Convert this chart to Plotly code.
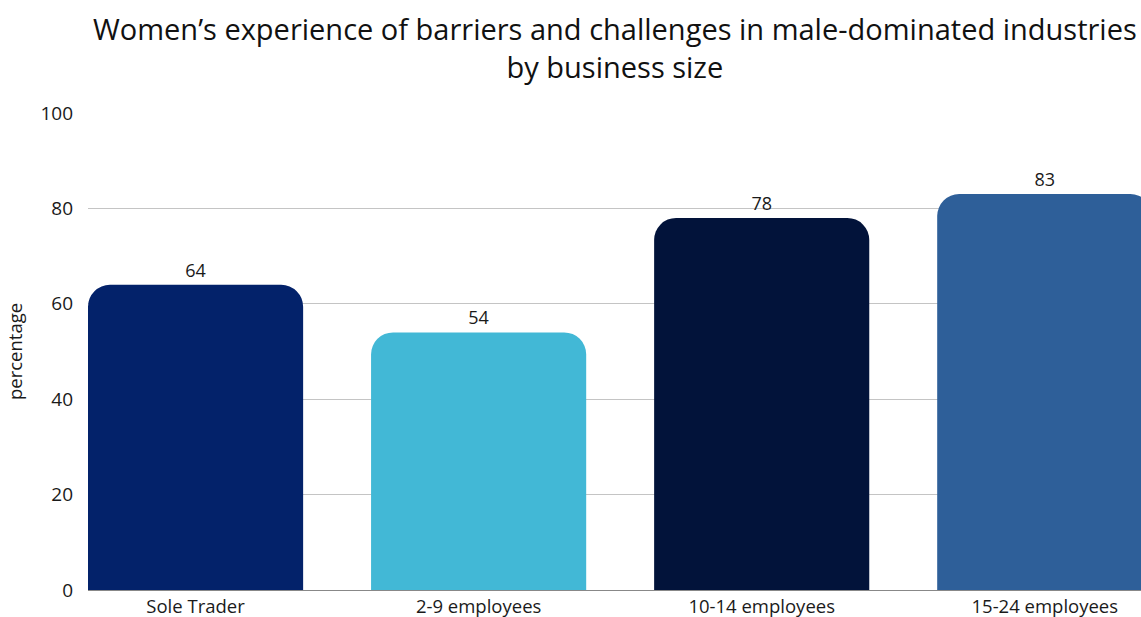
import plotly.graph_objects as go

# Share of women reporting barriers, by business size
categories = ["Sole Trader", "2-9 employees", "10-14 employees", "15-24 employees"]
values = [64, 54, 78, 83]
bar_colors = ["#03226A", "#42B8D6", "#02133A", "#2E5F99"]
y_ticks = [0, 20, 40, 60, 80, 100]

FONT = "Open Sans"
TEXT = "#1A1A1A"

fig = go.Figure(
    go.Bar(
        x=list(range(len(categories))),
        y=values,
        marker=dict(color=bar_colors, line=dict(width=0)),
        text=[str(v) for v in values],
        textposition="outside",
        textfont=dict(family=FONT, size=18, color=TEXT),
        cliponaxis=False,
        width=0.76,
        hoverinfo="skip",
    )
)

# Two-line heading centred over the plot area
plot_h = 617 - 113 - 27
fig.add_annotation(
    text="Women’s experience of barriers and challenges in male-dominated industries<br>by business size",
    x=0.5,
    xref="paper",
    xanchor="center",
    y=1 + (113 - 88) / plot_h,
    yref="paper",
    yanchor="bottom",
    showarrow=False,
    font=dict(family=FONT, size=29, color="#111111"),
)

fig.update_layout(
    width=1141,
    height=617,
    margin=dict(l=88, r=0, t=113, b=27),
    paper_bgcolor="white",
    plot_bgcolor="white",
    barcornerradius=22,
    showlegend=False,
    font=dict(family=FONT, color=TEXT),
    xaxis=dict(
        tickmode="array",
        tickvals=list(range(len(categories))),
        ticktext=categories,
        range=[-0.38, 3.34],
        showgrid=False,
        zeroline=False,
        showline=True,
        linecolor="#888888",
        linewidth=1,
        ticks="",
        tickfont=dict(family=FONT, size=18.5, color=TEXT),
        fixedrange=True,
    ),
    yaxis=dict(
        range=[0, 100],
        tickmode="array",
        tickvals=y_ticks,
        showgrid=True,
        gridcolor="#C4C4C4",
        gridwidth=1,
        zeroline=False,
        showline=False,
        ticks="",
        ticklabelstandoff=14,
        tickfont=dict(family=FONT, size=19, color=TEXT),
        title=dict(text="percentage", font=dict(family=FONT, size=18.5, color=TEXT), standoff=12),
        fixedrange=True,
    ),
)

fig.write_html("out.html")
